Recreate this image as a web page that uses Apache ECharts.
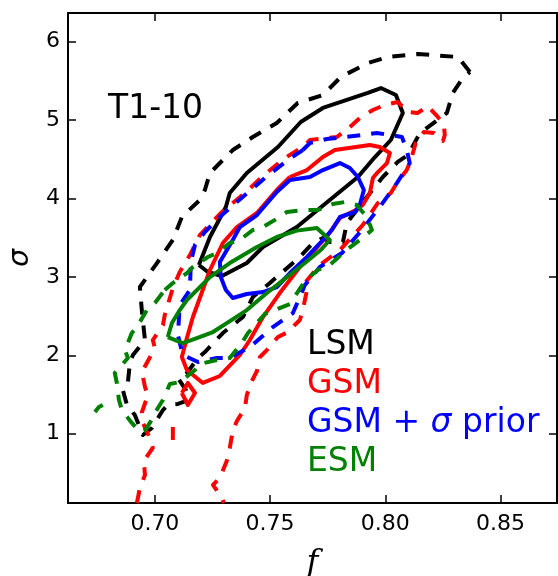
<!DOCTYPE html>
<html>
<head>
<meta charset="utf-8">
<script src="https://cdn.jsdelivr.net/npm/echarts@6/dist/echarts.min.js"></script>
<style>
html,body{margin:0;padding:0;background:#fff;}
#chart{width:558px;height:576px;}
</style>
</head>
<body>
<div id="chart"></div>
<script>
// ---- data (f, sigma) ----
const xTicks = [0.70, 0.75, 0.80, 0.85];
const yTicks = [1, 2, 3, 4, 5, 6];
const labels = ["LSM", "GSM", "GSM + σ prior", "ESM"];
const panelLabel = "T1-10";

const lsmSolid = [[0.7191,3.152],[0.7230,3.062],[0.7291,3.011],[0.7399,3.177],[0.7469,3.381],[0.7616,3.636],[0.7759,3.981],[0.7881,4.274],[0.7955,4.529],[0.8024,4.746],[0.8076,5.091],[0.8046,5.320],[0.7981,5.409],[0.7924,5.346],[0.7729,5.155],[0.7633,4.976],[0.7534,4.657],[0.7399,4.325],[0.7325,4.070],[0.7308,3.892],[0.7239,3.509]];

const lsmDashed = [[0.8367,5.614],[0.8315,5.805],[0.8141,5.843],[0.8011,5.805],[0.7924,5.728],[0.7807,5.550],[0.7751,5.384],[0.7729,5.320],[0.7620,5.218],[0.7529,4.963],[0.7425,4.784],[0.7338,4.618],[0.7239,4.325],[0.7217,4.108],[0.7195,3.981],[0.7117,3.764],[0.7078,3.471],[0.7009,3.177],[0.6935,2.871],[0.6944,2.552],[0.6957,2.195],[0.6905,2.004],[0.6892,1.915],[0.6883,1.659],[0.6861,1.557],[0.6879,1.366],[0.6913,1.239],[0.6948,0.983],[0.6987,1.073],[0.7035,1.302],[0.7056,1.366],[0.7100,1.379],[0.7148,1.430],[0.7135,1.557],[0.7100,1.710],[0.7139,1.774],[0.7187,1.966],[0.7217,2.042],[0.7295,2.284],[0.7382,2.488],[0.7425,2.743],[0.7499,2.922],[0.7599,3.177],[0.7629,3.254],[0.7686,3.432],[0.7729,3.496],[0.7759,3.445],[0.7816,3.445],[0.7833,3.687],[0.7920,4.019],[0.7989,4.274],[0.8054,4.466],[0.8098,4.555],[0.8150,4.835],[0.8245,5.040],[0.8267,5.091],[0.8293,5.346],[0.8336,5.537]];

const gsmSolid = [[0.7586,4.274],[0.7660,4.363],[0.7729,4.529],[0.7781,4.618],[0.7933,4.682],[0.7976,4.657],[0.8020,4.580],[0.8007,4.452],[0.7968,4.337],[0.7946,4.261],[0.7933,4.070],[0.7902,3.917],[0.7872,3.853],[0.7803,3.751],[0.7751,3.534],[0.7629,3.126],[0.7542,2.794],[0.7469,2.488],[0.7412,2.195],[0.7369,2.004],[0.7282,1.736],[0.7208,1.647],[0.7139,1.812],[0.7117,1.978],[0.7139,2.220],[0.7165,2.488],[0.7195,2.731],[0.7239,3.088],[0.7295,3.432],[0.7356,3.636],[0.7443,3.815],[0.7529,4.108]];

const gsmSolidIsland = [[0.7117,1.519],[0.7143,1.647],[0.7174,1.519],[0.7143,1.366]];

const gsmDashed = [[0.6922,0.116],[0.6935,0.308],[0.6957,0.473],[0.6952,0.652],[0.6991,0.818],[0.6978,0.945],[0.6948,1.137],[0.6944,1.277],[0.6970,1.494],[0.6957,1.596],[0.6944,1.787],[0.6965,1.902],[0.7000,2.093],[0.6991,2.195],[0.7035,2.386],[0.7043,2.514],[0.7065,2.731],[0.7078,2.858],[0.7108,3.062],[0.7152,3.279],[0.7195,3.534],[0.7291,3.828],[0.7391,4.070],[0.7469,4.287],[0.7564,4.516],[0.7642,4.657],[0.7673,4.746],[0.7746,4.772],[0.7790,4.784],[0.7846,4.912],[0.7889,5.027],[0.7946,5.129],[0.7998,5.193],[0.8054,5.231],[0.8098,5.104],[0.8141,5.091],[0.8184,5.180],[0.8224,5.053],[0.8254,4.950],[0.8258,4.810],[0.8250,4.733],[0.8211,4.835],[0.8167,4.848],[0.8132,4.708],[0.8111,4.491],[0.8093,4.363],[0.8050,4.197],[0.8024,4.070],[0.7968,3.943],[0.7902,3.662],[0.7803,3.343],[0.7716,3.152],[0.7651,2.922],[0.7660,2.833],[0.7642,2.577],[0.7629,2.450],[0.7577,2.297],[0.7534,2.233],[0.7486,2.067],[0.7456,1.978],[0.7443,1.800],[0.7421,1.672],[0.7399,1.494],[0.7391,1.328],[0.7356,1.162],[0.7338,1.035],[0.7325,0.818],[0.7312,0.652],[0.7282,0.435],[0.7252,0.346],[0.7291,0.180],[0.7299,0.116]];

const gsmDashedIsland = [[0.7078,1.086],[0.7078,0.894]];

const priorSolid = [[0.7586,4.236],[0.7673,4.274],[0.7729,4.363],[0.7803,4.452],[0.7846,4.389],[0.7881,4.274],[0.7907,4.108],[0.7889,3.917],[0.7868,3.828],[0.7803,3.764],[0.7768,3.598],[0.7729,3.471],[0.7660,3.254],[0.7586,3.049],[0.7529,2.871],[0.7469,2.807],[0.7399,2.782],[0.7338,2.731],[0.7308,2.833],[0.7286,2.998],[0.7282,3.190],[0.7338,3.471],[0.7369,3.636],[0.7443,3.789],[0.7529,4.082]];

const priorDashed = [[0.7642,4.618],[0.7673,4.708],[0.7746,4.759],[0.7824,4.784],[0.7898,4.810],[0.7963,4.835],[0.8020,4.810],[0.8072,4.784],[0.8093,4.618],[0.8106,4.452],[0.8050,4.197],[0.8020,4.070],[0.7976,3.892],[0.7898,3.598],[0.7812,3.305],[0.7716,3.126],[0.7651,2.896],[0.7629,2.743],[0.7599,2.539],[0.7512,2.360],[0.7412,2.105],[0.7325,1.966],[0.7269,1.966],[0.7187,1.915],[0.7121,2.004],[0.7100,2.258],[0.7108,2.641],[0.7152,2.833],[0.7156,3.190],[0.7174,3.407],[0.7217,3.573],[0.7291,3.789],[0.7391,4.044],[0.7477,4.261],[0.7577,4.491]];

const esmSolid = [[0.7056,2.233],[0.7074,2.411],[0.7108,2.577],[0.7139,2.705],[0.7239,2.998],[0.7325,3.177],[0.7443,3.381],[0.7529,3.509],[0.7616,3.590],[0.7703,3.624],[0.7759,3.471],[0.7720,3.343],[0.7651,3.177],[0.7573,2.998],[0.7486,2.794],[0.7399,2.577],[0.7312,2.411],[0.7252,2.297],[0.7182,2.220],[0.7121,2.156]];

const esmDashed = [[0.7043,2.833],[0.7078,2.922],[0.7139,3.049],[0.7165,3.126],[0.7230,3.254],[0.7269,3.305],[0.7325,3.432],[0.7369,3.471],[0.7425,3.598],[0.7469,3.636],[0.7542,3.764],[0.7573,3.828],[0.7651,3.853],[0.7707,3.853],[0.7772,3.930],[0.7824,3.955],[0.7876,3.917],[0.7920,3.764],[0.7942,3.598],[0.7889,3.471],[0.7837,3.356],[0.7759,3.152],[0.7707,3.088],[0.7651,2.947],[0.7586,2.654],[0.7477,2.527],[0.7404,2.284],[0.7377,2.156],[0.7325,1.966],[0.7269,1.940],[0.7195,1.889],[0.7174,1.812],[0.7108,1.659],[0.7065,1.634],[0.7035,1.430],[0.7013,1.328],[0.6978,1.137],[0.6957,1.047],[0.6935,1.022],[0.6900,1.137],[0.6857,1.302],[0.6844,1.430],[0.6835,1.647],[0.6826,1.774],[0.6883,1.966],[0.6870,2.067],[0.6900,2.284],[0.6922,2.360],[0.6965,2.577],[0.7000,2.667]];

const esmDashedIsland = [[0.6740,1.277],[0.6757,1.340],[0.6774,1.366]];

// ---- chart ----
const closed = a => a.concat([a[0]]);
const FONT = '"DejaVu Sans", sans-serif';
const DASH = [13, 11];
const C = {lsm:'#000000', gsm:'#ff0000', prior:'#0000ff', esm:'#008000'};

function line(data, color, dashed) {
  return {
    type: 'line', data: data, showSymbol: false, symbol: 'none', smooth: false,
    silent: true, animation: false, clip: true,
    lineStyle: {color: color, width: 4, type: dashed ? DASH : 'solid', cap: 'butt', join: 'round'}
  };
}

const axisLineStyle = {show: true, onZero: false, lineStyle: {color: '#000', width: 2}};
const tickStyle = ticks => ({show: true, inside: true, length: 8, customValues: ticks, lineStyle: {color: '#000', width: 1.5}});

const option = {
  animation: false,
  backgroundColor: '#fff',
  grid: {left: 68, top: 13, width: 489, height: 490, containLabel: false, outerBoundsMode: 'none'},
  xAxis: [
    {type: 'value', position: 'bottom', min: 0.6623, max: 0.8745,
     axisLine: axisLineStyle, axisTick: tickStyle(xTicks), splitLine: {show: false},
     axisLabel: {customValues: xTicks, formatter: v => v.toFixed(2), color: '#000', fontSize: 22, fontFamily: FONT, margin: 10},
     name: 'f', nameLocation: 'middle', nameGap: 45,
     nameTextStyle: {fontFamily: '"DejaVu Serif", serif', fontStyle: 'italic', fontSize: 32, color: '#000'}},
    {type: 'value', position: 'top', min: 0.6623, max: 0.8745,
     axisLine: axisLineStyle, axisTick: tickStyle(xTicks), splitLine: {show: false}, axisLabel: {show: false}}
  ],
  yAxis: [
    {type: 'value', position: 'left', min: 0.116, max: 6.366,
     axisLine: axisLineStyle, axisTick: tickStyle(yTicks), splitLine: {show: false},
     axisLabel: {customValues: yTicks, formatter: v => String(v), color: '#000', fontSize: 22, fontFamily: FONT, margin: 8},
     name: 'σ', nameLocation: 'middle', nameGap: 33, nameRotate: 90,
     nameTextStyle: {fontFamily: FONT, fontStyle: 'italic', fontSize: 28, color: '#000'}},
    {type: 'value', position: 'right', min: 0.116, max: 6.366,
     axisLine: axisLineStyle, axisTick: tickStyle(yTicks), splitLine: {show: false}, axisLabel: {show: false}}
  ],
  series: [
    line(closed(lsmSolid), C.lsm, false),
    line(closed(lsmDashed), C.lsm, true),
    line(closed(gsmSolid), C.gsm, false),
    line(closed(gsmSolidIsland), C.gsm, false),
    line(gsmDashed, C.gsm, true),
    line(gsmDashedIsland, C.gsm, true),
    line(closed(priorSolid), C.prior, false),
    line(closed(priorDashed), C.prior, true),
    line(closed(esmSolid), C.esm, false),
    line(closed(esmDashed), C.esm, true),
    line(esmDashedIsland, C.esm, true)
  ],
  graphic: [
    {type: 'text', x: 108, y: 109, silent: true,
     style: {text: panelLabel, font: '33px ' + FONT, fill: '#000', align: 'left', verticalAlign: 'middle'}},
    {type: 'text', x: 307, y: 345, silent: true,
     style: {text: labels[0], font: '33px ' + FONT, fill: C.lsm, align: 'left', verticalAlign: 'middle'}},
    {type: 'text', x: 307, y: 384, silent: true,
     style: {text: labels[1], font: '33px ' + FONT, fill: C.gsm, align: 'left', verticalAlign: 'middle'}},
    {type: 'text', x: 307, y: 423, silent: true,
     style: {text: '{a|GSM + }{s|σ}{a| prior}', fill: C.prior, align: 'left', verticalAlign: 'middle',
             rich: {a: {font: '33px ' + FONT, fill: C.prior}, s: {font: 'italic 33px ' + FONT, fill: C.prior}}}},
    {type: 'text', x: 307, y: 462, silent: true,
     style: {text: labels[3], font: '33px ' + FONT, fill: C.esm, align: 'left', verticalAlign: 'middle'}}
  ]
};

const chart = echarts.init(document.getElementById('chart'), null, {renderer: 'canvas'});
chart.setOption(option);
</script>
</body>
</html>
